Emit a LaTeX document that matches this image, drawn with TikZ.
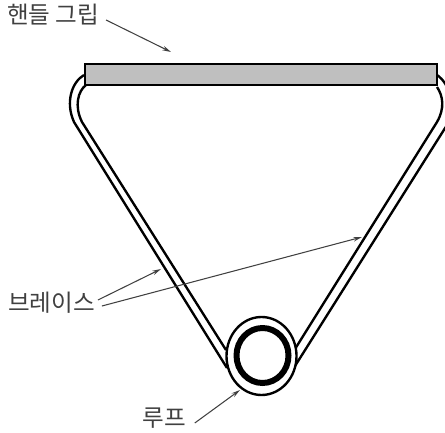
\documentclass[tikz,border=0pt]{standalone}
\usepackage{fontspec}
\setmainfont{Noto Sans CJK KR}
\usetikzlibrary{calc, positioning, arrows.meta}

\tikzset{
  rodline/.style={black, line width=1.35pt},
  partlabel/.style={font=\fontsize{13.4pt}{15pt}\selectfont, text=black!75, inner sep=1pt},
  leader/.style={-{Stealth[length=5pt, width=2.6pt]}, black!75, line width=0.6pt}
}

\begin{document}
\begin{tikzpicture}[x=0.02cm, y=-0.02cm]
  \clip (0,0) rectangle (445,432);

  % Brace rods, outer and inner line
  \draw[rodline] (84,75) .. controls (72,82) and (65,102) .. (74,122) -- (227,368);
  \draw[rodline] (86,85) .. controls (78,91) and (74,106) .. (82,122) -- (226,350);
  \draw[rodline] (437,75) .. controls (450,84) and (456,106) .. (447,125) -- (295,366);
  \draw[rodline] (437,87) .. controls (443,96) and (445,108) .. (437,122) -- (295,349);

  % Loop at the bottom
  \draw[rodline, fill=white] (261.5,356) ellipse (35 and 39);
  \draw[black, line width=3.4pt] (262.5,355.5) ellipse (26 and 27.5);

  % Handle grip
  \draw[rodline, fill=black!25] (85,64) rectangle (437,85);

  % Labels and leaders
  \node[partlabel] (lblGrip) at (53,15) {핸들 그립};
  \node[partlabel] (lblBrace) at (51.5,303) {브레이스};
  \node[partlabel] (lblLoop) at (164,418) {루프};

  \coordinate (tipGrip) at (171,52);
  \coordinate (tipBraceL) at (161,269);
  \coordinate (tipBraceR) at (362,237);
  \coordinate (tipLoop) at (240,390);

  \draw[leader] (lblGrip.east) ++(5,5) -- (tipGrip);
  \draw[leader] (lblBrace.east) ++(1,-3) -- (tipBraceL);
  \draw[leader] (lblBrace.east) ++(5,3) -- (tipBraceR);
  \draw[leader] (lblLoop.east) ++(7,5) -- (tipLoop);
\end{tikzpicture}
\end{document}
